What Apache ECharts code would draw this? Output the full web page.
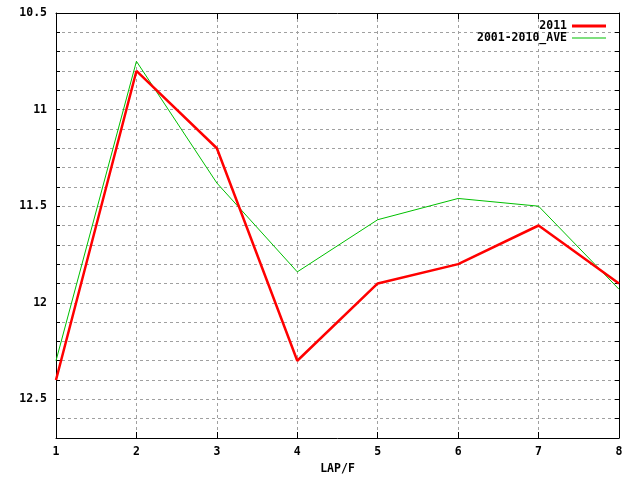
<!DOCTYPE html>
<html>
<head>
<meta charset="utf-8">
<script src="https://cdn.jsdelivr.net/npm/echarts@6/dist/echarts.min.js"></script>
<style>
  html, body { margin: 0; padding: 0; background: #fff; }
  #container { width: 640px; height: 480px; }
</style>
</head>
<body>
<div id="container"></div>
<script>
// 数据
var laps = [1, 2, 3, 4, 5, 6, 7, 8];
var data2011 = [12.40, 10.80, 11.20, 12.30, 11.90, 11.80, 11.60, 11.90];
var dataAve = [12.30, 10.75, 11.38, 11.84, 11.57, 11.46, 11.50, 11.93];
var yMajorTicks = [10.5, 11, 11.5, 12, 12.5];

var font = 'DejaVu Sans Mono';
var dom = document.getElementById('container');
var myChart = echarts.init(dom, null, { renderer: 'canvas' });

function pairs(ys) {
   return laps.map(function (x, i) { return [x, ys[i]]; });
}

function yLabel(v) {
   var r = Math.round(v * 10) / 10;
   for (var i = 0; i < yMajorTicks.length; i++) {
      if (Math.abs(yMajorTicks[i] - r) < 1e-6) return String(r);
   }
   return '';
}

var gridLine = { show: true, lineStyle: { color: '#a0a0a0', type: [3, 3], width: 1 } };
var axisLine = { show: true, onZero: false, lineStyle: { color: '#000', width: 1 } };
var textStyle = { fontFamily: font, fontWeight: 'bold', fontSize: 11.5, color: '#000' };

var option = {
   animation: false,
   backgroundColor: '#fff',
   grid: { left: 56, right: 21, top: 13, bottom: 40 },
   legend: {
      orient: 'vertical',
      right: 29,
      top: 15,
      align: 'right',
      itemWidth: 34,
      itemHeight: 3,
      itemGap: 0,
      textStyle: textStyle,
      data: [
         { name: '2011', icon: 'rect' },
         { name: '2001-2010_AVE', icon: 'path://M0,0H34V1H0Z' }
      ]
   },
   xAxis: [
      {
         type: 'value', min: 1, max: 8, interval: 1,
         name: 'LAP/F', nameLocation: 'middle', nameGap: 25,
         nameTextStyle: textStyle,
         axisLine: axisLine,
         axisTick: { show: true, inside: true, length: 6, lineStyle: { color: '#000' } },
         axisLabel: Object.assign({ margin: 8 }, textStyle),
         splitLine: gridLine
      },
      {
         type: 'value', min: 1, max: 8, interval: 1, position: 'top',
         axisLine: axisLine,
         axisTick: { show: true, inside: true, length: 6, lineStyle: { color: '#000' } },
         axisLabel: { show: false },
         splitLine: { show: false }
      }
   ],
   yAxis: [
      {
         type: 'value', inverse: true, min: 10.5, max: 12.7, interval: 0.1,
         axisLine: axisLine,
         axisTick: { show: true, inside: true, length: 4, lineStyle: { color: '#000' } },
         axisLabel: Object.assign({ margin: 9, padding: [2, 0, 0, 0], formatter: yLabel }, textStyle),
         splitLine: gridLine
      },
      {
         type: 'value', inverse: true, min: 10.5, max: 12.7, interval: 0.1, position: 'right',
         axisLine: axisLine,
         axisTick: { show: true, inside: true, length: 4, lineStyle: { color: '#000' } },
         axisLabel: { show: false },
         splitLine: { show: false }
      }
   ],
   series: [
      {
         name: '2001-2010_AVE',
         type: 'line',
         showSymbol: false,
         color: '#00c000',
         lineStyle: { width: 1, color: '#00c000' },
         z: 2,
         data: pairs(dataAve)
      },
      {
         name: '2011',
         type: 'line',
         showSymbol: false,
         color: '#ff0000',
         lineStyle: { width: 2.5, color: '#ff0000' },
         z: 3,
         data: pairs(data2011)
      }
   ]
};

myChart.setOption(option);
window.addEventListener('resize', myChart.resize);
</script>
</body>
</html>
